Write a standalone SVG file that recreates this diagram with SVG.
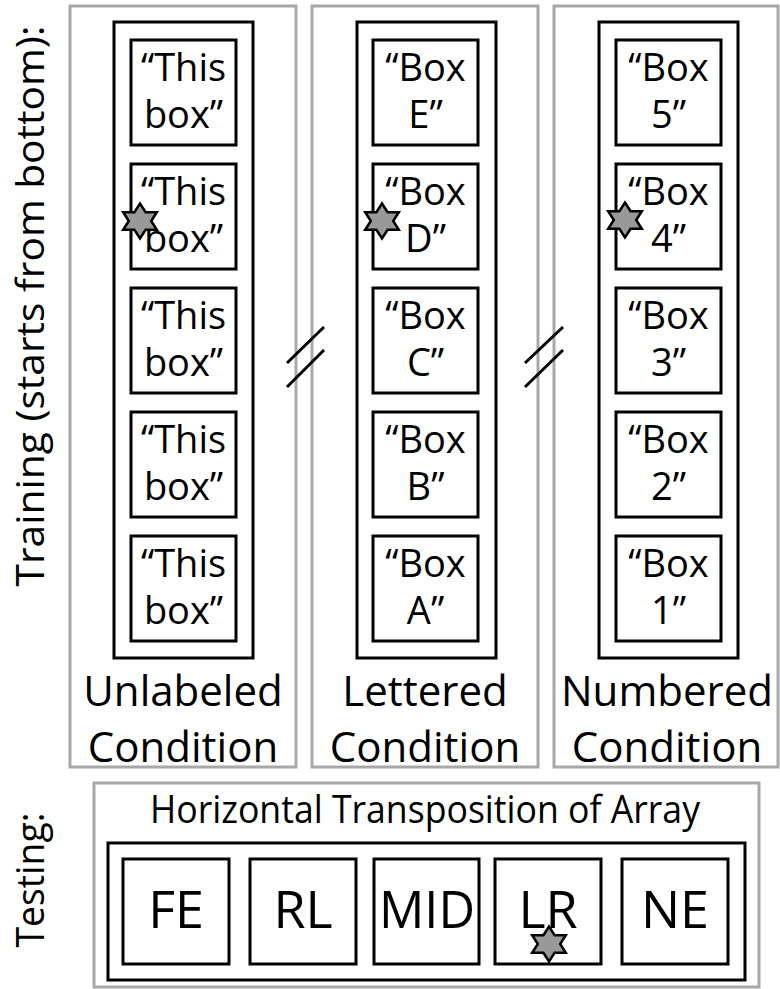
<svg xmlns="http://www.w3.org/2000/svg" width="780" height="989" viewBox="0 0 780 989">
<style>
.panel{fill:#fff;stroke:#a8a8a8;stroke-width:3}
.col{fill:none;stroke:#000;stroke-width:3}
.box{fill:#fff;stroke:#000;stroke-width:3}
.t{font-family:"Open Sans","Noto Sans","Liberation Sans",sans-serif;fill:#000;text-anchor:middle}
.bt{font-size:38px}
.lab{font-size:42px}
.side{font-size:38px}
.big{font-size:52px}
.star{fill:#999;stroke:#000;stroke-width:2.5;stroke-linejoin:miter}
.brk{stroke:#000;stroke-width:3;fill:none}
</style>
<defs>
<polygon id="star" class="star" points="0,-17.5 5.6,-8.8 16.8,-8.8 11.2,0 16.8,8.8 5.6,8.8 0,17.5 -5.6,8.8 -16.8,8.8 -11.2,0 -16.8,-8.8 -5.6,-8.8"/>
</defs>
<rect width="780" height="989" fill="#fff"/>

<g id="label-training">
<text class="t side" transform="translate(44,306) rotate(-90)" textLength="561" lengthAdjust="spacingAndGlyphs">Training (starts from bottom):</text>
</g>
<g id="label-testing">
<text class="t side" transform="translate(44,880) rotate(-90)" textLength="135" lengthAdjust="spacingAndGlyphs">Testing:</text>
</g>

<g id="unlabeled-condition">
<rect class="panel" x="70" y="6" width="226" height="761"/>
<rect class="col" x="114" y="22" width="139" height="636"/>
<g id="u5"><rect class="box" x="131" y="40" width="105" height="105"/><text class="t bt" x="183.5" y="81">“This</text><text class="t bt" x="183.5" y="128">box”</text></g>
<g id="u4"><rect class="box" x="131" y="164" width="105" height="105"/><text class="t bt" x="183.5" y="205">“This</text><text class="t bt" x="183.5" y="252">box”</text></g>
<g id="u3"><rect class="box" x="131" y="288" width="105" height="105"/><text class="t bt" x="183.5" y="329">“This</text><text class="t bt" x="183.5" y="376">box”</text></g>
<g id="u2"><rect class="box" x="131" y="412" width="105" height="105"/><text class="t bt" x="183.5" y="453">“This</text><text class="t bt" x="183.5" y="500">box”</text></g>
<g id="u1"><rect class="box" x="131" y="536" width="105" height="105"/><text class="t bt" x="183.5" y="577">“This</text><text class="t bt" x="183.5" y="624">box”</text></g>
<use href="#star" x="140" y="221"/>
<text class="t lab" x="183" y="706">Unlabeled</text>
<text class="t lab" x="183" y="762">Condition</text>
</g>

<g id="lettered-condition">
<rect class="panel" x="312" y="6" width="226" height="761"/>
<rect class="col" x="357" y="22" width="139" height="636"/>
<g id="lE"><rect class="box" x="373" y="40" width="105" height="105"/><text class="t bt" x="425.5" y="81">“Box</text><text class="t bt" x="425.5" y="128">E”</text></g>
<g id="lD"><rect class="box" x="373" y="164" width="105" height="105"/><text class="t bt" x="425.5" y="205">“Box</text><text class="t bt" x="425.5" y="252">D”</text></g>
<g id="lC"><rect class="box" x="373" y="288" width="105" height="105"/><text class="t bt" x="425.5" y="329">“Box</text><text class="t bt" x="425.5" y="376">C”</text></g>
<g id="lB"><rect class="box" x="373" y="412" width="105" height="105"/><text class="t bt" x="425.5" y="453">“Box</text><text class="t bt" x="425.5" y="500">B”</text></g>
<g id="lA"><rect class="box" x="373" y="536" width="105" height="105"/><text class="t bt" x="425.5" y="577">“Box</text><text class="t bt" x="425.5" y="624">A”</text></g>
<use href="#star" x="382" y="221"/>
<text class="t lab" x="425" y="706">Lettered</text>
<text class="t lab" x="425" y="762">Condition</text>
</g>

<g id="numbered-condition">
<rect class="panel" x="554" y="6" width="224" height="761"/>
<rect class="col" x="599" y="22" width="139" height="636"/>
<g id="n5"><rect class="box" x="616" y="40" width="105" height="105"/><text class="t bt" x="668.5" y="81">“Box</text><text class="t bt" x="668.5" y="128">5”</text></g>
<g id="n4"><rect class="box" x="616" y="164" width="105" height="105"/><text class="t bt" x="668.5" y="205">“Box</text><text class="t bt" x="668.5" y="252">4”</text></g>
<g id="n3"><rect class="box" x="616" y="288" width="105" height="105"/><text class="t bt" x="668.5" y="329">“Box</text><text class="t bt" x="668.5" y="376">3”</text></g>
<g id="n2"><rect class="box" x="616" y="412" width="105" height="105"/><text class="t bt" x="668.5" y="453">“Box</text><text class="t bt" x="668.5" y="500">2”</text></g>
<g id="n1"><rect class="box" x="616" y="536" width="105" height="105"/><text class="t bt" x="668.5" y="577">“Box</text><text class="t bt" x="668.5" y="624">1”</text></g>
<use href="#star" x="625" y="220"/>
<text class="t lab" x="667" y="706">Numbered</text>
<text class="t lab" x="667" y="762">Condition</text>
</g>

<g id="connectors">
<line class="brk" x1="287" y1="363" x2="324" y2="327"/>
<line class="brk" x1="287" y1="387" x2="324" y2="350"/>
<line class="brk" x1="525" y1="363" x2="563" y2="327"/>
<line class="brk" x1="525" y1="387" x2="563" y2="350"/>
</g>

<g id="testing">
<rect class="panel" x="94" y="783" width="665" height="204"/>
<text class="t side" x="425" y="823" textLength="550" lengthAdjust="spacingAndGlyphs">Horizontal Transposition of Array</text>
<rect class="col" x="108" y="843" width="637" height="137"/>
<g id="tFE"><rect class="box" x="123" y="859" width="106" height="105"/><text class="t big" x="176" y="928">FE</text></g>
<g id="tRL"><rect class="box" x="250" y="859" width="106" height="105"/><text class="t big" x="303" y="928">RL</text></g>
<g id="tMID"><rect class="box" x="374" y="859" width="105" height="105"/><text class="t big" x="427" y="928" textLength="96" lengthAdjust="spacingAndGlyphs">MID</text></g>
<g id="tLR"><rect class="box" x="495" y="859" width="106" height="105"/><text class="t big" x="548" y="928">LR</text><use href="#star" x="549" y="944"/></g>
<g id="tNE"><rect class="box" x="622" y="859" width="106" height="105"/><text class="t big" x="675" y="928">NE</text></g>
</g>
</svg>
